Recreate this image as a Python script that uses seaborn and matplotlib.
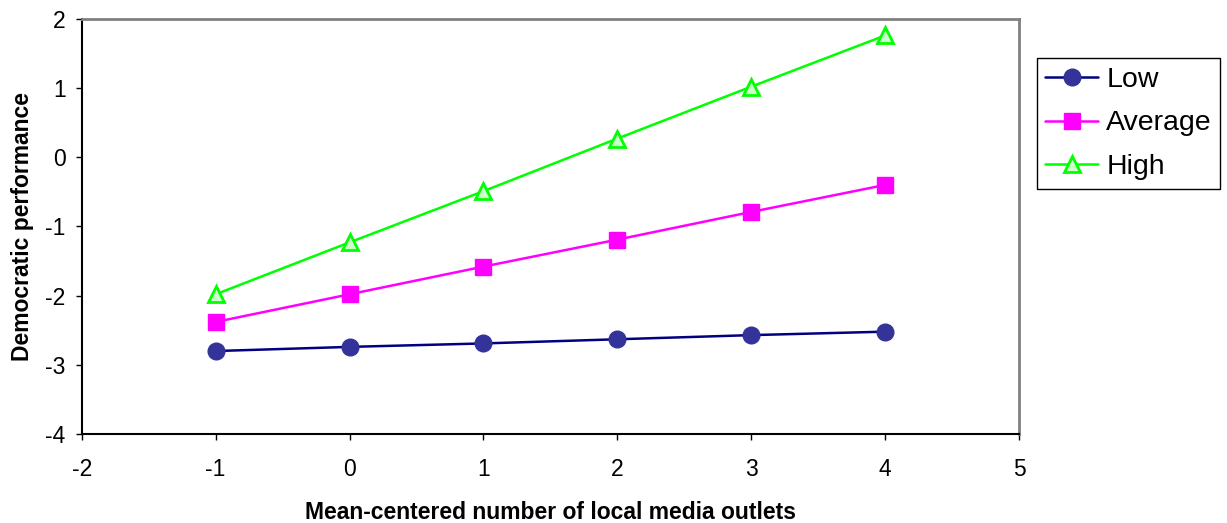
import matplotlib
matplotlib.use("Agg")
import matplotlib.pyplot as plt
import seaborn as sns
import pandas as pd

x_vals = [-1, 0, 1, 2, 3, 4]
low = [-2.80, -2.74, -2.69, -2.63, -2.57, -2.52]
average = [-2.38, -1.98, -1.58, -1.19, -0.79, -0.40]
high = [-1.98, -1.23, -0.49, 0.27, 1.02, 1.76]
series_names = ["Low", "Average", "High"]
x_ticks = [-2, -1, 0, 1, 2, 3, 4, 5]
y_ticks = [-4, -3, -2, -1, 0, 1, 2]

sns.set_style("white")
plt.rcParams["font.family"] = ["Liberation Sans", "DejaVu Sans"]
plt.rcParams["axes.unicode_minus"] = False
plt.rcParams["text.color"] = "black"
plt.rcParams["axes.labelcolor"] = "black"
plt.rcParams["xtick.color"] = "black"
plt.rcParams["ytick.color"] = "black"

fig = plt.figure(figsize=(12.27, 5.23), dpi=100)
ax = fig.add_axes([0.0666, 0.170, 0.764, 0.794])

styles = {
    "Low": dict(color="#000080", marker="o", markerfacecolor="#333399",
                markeredgecolor="#333399", markersize=12, markeredgewidth=1),
    "Average": dict(color="#FF00FF", marker="s", markerfacecolor="#FF00FF",
                    markeredgecolor="#FF00FF", markersize=12, markeredgewidth=1),
    "High": dict(color="#00FF00", marker="^", markerfacecolor="#CCFFCC",
                 markeredgecolor="#00FF00", markersize=12, markeredgewidth=2),
}
for name, vals in zip(series_names, [low, average, high]):
    df = pd.DataFrame({"x": x_vals, "y": vals})
    sns.lineplot(data=df, x="x", y="y", ax=ax, label=name, linewidth=1.8, **styles[name])

ax.set_xlim(-2, 5)
ax.set_ylim(-4, 2)
ax.set_xticks(x_ticks)
ax.set_yticks(y_ticks)
ax.tick_params(axis="both", direction="out", length=4.5, width=1, color="black",
               labelsize=16.5, bottom=True, left=True)
ax.tick_params(axis="x", pad=13)
ax.tick_params(axis="y", pad=7)
for s in ["left", "bottom"]:
    ax.spines[s].set_color("black")
    ax.spines[s].set_linewidth(1.5)
for s in ["top", "right"]:
    ax.spines[s].set_color("#808080")
    ax.spines[s].set_linewidth(2)

ax.set_xlabel("Mean-centered number of local media outlets", fontsize=16.5,
              fontweight="bold", labelpad=14)
ax.set_ylabel("Democratic performance", fontsize=16.5, fontweight="bold", labelpad=8)

leg = ax.legend(loc="upper left", bbox_to_anchor=(1.019, 0.905), fontsize=20.5,
                frameon=True, fancybox=False, edgecolor="black", framealpha=1,
                handlelength=1.85, handletextpad=0.28, borderpad=0.3, labelspacing=0.62,
                borderaxespad=0)
leg.get_frame().set_linewidth(1)

fig.savefig("out.png", dpi=100)
